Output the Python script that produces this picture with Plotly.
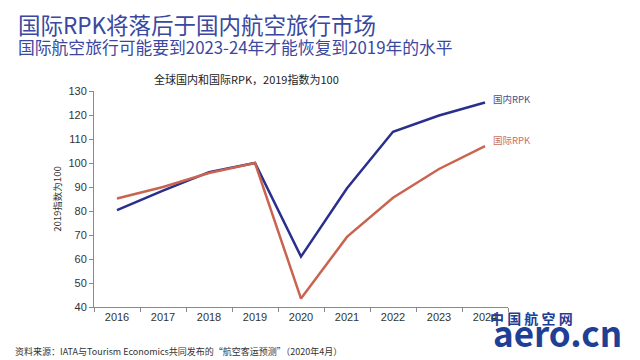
import plotly.graph_objects as go

years = ["2016", "2017", "2018", "2019", "2020", "2021", "2022", "2023", "2024"]
domestic = [80.4, 88.5, 96.2, 100, 61, 89.5, 113, 119.8, 125.2]
international = [85.2, 90, 95.8, 100, 43.5, 69.2, 85.5, 97.5, 107]

blue = "#2a2f8e"
red = "#c96450"
font = "Noto Sans CJK SC"

# page body adds an 8px offset; lay out in canvas coords = reference coords - 8
OFF = 8
L, T, PW, PH = 94 - OFF, 91 - OFF, 414, 216
W, H = 640, 360

fig = go.Figure()
fig.add_trace(go.Scatter(x=years, y=domestic, mode="lines", line=dict(color=blue, width=2.5), name="国内RPK"))
fig.add_trace(go.Scatter(x=years, y=international, mode="lines", line=dict(color=red, width=2.5), name="国际RPK"))

fig.update_layout(
    width=W, height=H,
    margin=dict(l=L, r=W - L - PW, t=T, b=H - T - PH),
    paper_bgcolor="white", plot_bgcolor="white",
    showlegend=False,
    font=dict(family=font, color="#333333", size=11),
    xaxis=dict(type="category", showgrid=False, showline=True, linecolor="#8a8a8a", linewidth=1,
               ticks="outside", tickson="boundaries", ticklen=4, tickcolor="#8a8a8a",
               tickfont=dict(family="Liberation Sans, Arial", size=11, color="#333333"),
               range=[-0.5, 8.5], zeroline=False, automargin=False),
    yaxis=dict(range=[40, 130], dtick=10, showgrid=False, showline=True, linecolor="#8a8a8a", linewidth=1,
               ticks="outside", ticklen=4, tickcolor="#8a8a8a", zeroline=False, automargin=False,
               tickfont=dict(family="Liberation Sans, Arial", size=11, color="#333333"),
               title=dict(text="2019指数为100", font=dict(family=font, size=9.5, color="#333333"), standoff=5)),
)

anns = [
    dict(text="国际RPK将落后于国内航空旅行市场", x=17, y=23.5, size=22.5, color="#3a48a0"),
    dict(text="国际航空旅行可能要到2023-24年才能恢复到2019年的水平", x=17, y=47, size=16.8, color="#3a48a0"),
    dict(text="全球国内和国际RPK，2019指数为100", x=153, y=79, size=11, color="#222222"),
    dict(text="资料来源：IATA与Tourism Economics共同发布的“航空客运预测”（2020年4月）", x=14, y=351, size=9, color="#333333"),
    dict(text="国内RPK", x=492, y=99, size=9.5, color="#4a4f8a"),
    dict(text="国际RPK", x=492, y=140, size=9.5, color="#c9705e"),
    dict(text="<b>中 国 航 空 网</b>", x=489, y=318, size=14, color="#1f3f95"),
    dict(text="<b>aero.cn</b>", x=492, y=331, size=35, color="#1f3f95"),
]
for a in anns:
    fig.add_annotation(text=a["text"], xref="paper", yref="paper",
                       x=(a["x"] - OFF - L) / PW,
                       y=(H - (a["y"] - OFF) - (H - T - PH)) / PH,
                       xanchor="left", yanchor="middle", showarrow=False, borderpad=0,
                       font=dict(family=font, size=a["size"], color=a["color"]))

fig.write_html("out.html")
